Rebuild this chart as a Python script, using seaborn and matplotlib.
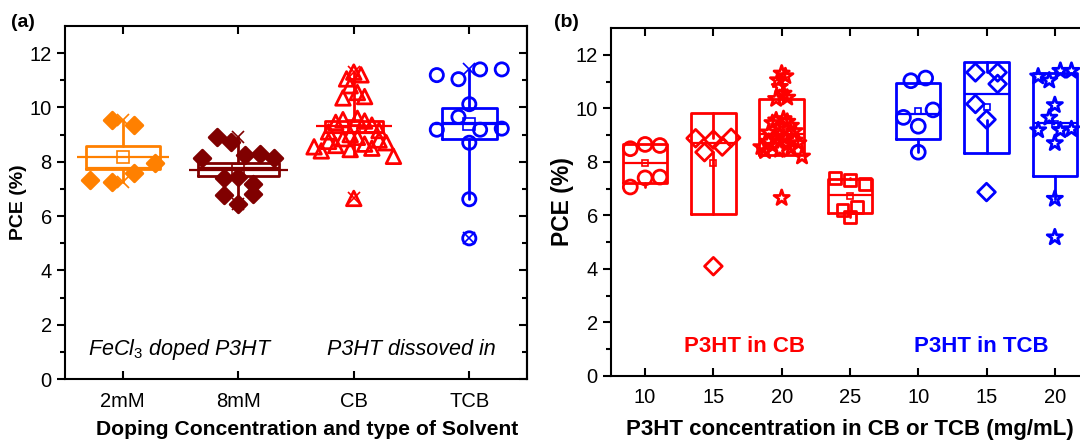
import numpy as np
import pandas as pd
import matplotlib
matplotlib.use("Agg")
import matplotlib.pyplot as plt
import seaborn as sns
from collections import defaultdict

# ---------------- data (PCE, %) ----------------
# panel (a): FeCl3-doped P3HT and P3HT in different solvents
doped_2mM = [9.53, 9.35, 7.32, 7.26, 7.57, 7.96]
doped_8mM = [8.12, 8.92, 8.73, 8.24, 8.27, 8.12,
             7.39, 7.45, 7.18, 6.77, 6.46, 6.83]

# panel (b): P3HT concentration series (mg/mL) in CB and TCB
cb_10 = [8.49, 8.65, 8.61, 7.06, 7.40, 7.43]
cb_15 = [8.88, 8.36, 8.83, 8.57, 8.90, 4.10]
cb_20 = [11.05, 11.30, 11.20,
         10.35, 10.80, 10.55, 10.40,
         9.10, 9.45, 9.55, 9.00, 9.60, 9.50, 9.35, 9.15,
         8.55, 8.40, 8.75, 8.60, 8.85, 8.45, 8.90, 8.65, 8.50, 8.80, 8.70, 8.20,
         6.65]
cb_25 = [7.40, 7.31, 7.18, 6.21, 6.31, 5.94]
tcb_10 = [11.03, 11.13, 9.66, 9.33, 9.94, 8.36]
tcb_15 = [11.34, 11.34, 10.16, 10.91, 9.58, 6.87]
tcb_20 = [11.19, 11.04, 11.40, 11.40, 10.12,
          9.18, 9.65, 9.18, 9.22, 8.70, 6.62, 5.18]

labels_a = ["2mM", "8mM", "CB", "TCB"]
series_a = [doped_2mM, doped_8mM, cb_20, tcb_20]
labels_b = ["10", "15", "20", "25", "10", "15", "20"]
series_b = [cb_10, cb_15, cb_20, cb_25, tcb_10, tcb_15, tcb_20]

# ---------------- styling ----------------
sns.set_theme(style="ticks")
plt.rcParams["font.family"] = ["Liberation Sans", "DejaVu Sans"]
plt.rcParams["mathtext.fontset"] = "custom"
plt.rcParams["mathtext.it"] = "Liberation Sans:italic"
plt.rcParams["mathtext.rm"] = "Liberation Sans"
plt.rcParams["mathtext.default"] = "it"
for key in ("text.color", "axes.labelcolor", "xtick.color", "ytick.color",
            "axes.edgecolor"):
    plt.rcParams[key] = "black"

ORANGE, MAROON, RED, BLUE = "#ff8000", "#800000", "#ff0000", "#0000ff"


def spread(vals, width):
    """Horizontal offsets: values are grouped in unit-wide bins and each
    bin's points are laid out side by side, centred on the box."""
    vals = np.asarray(vals)
    bins = np.floor(vals).astype(int)
    counts = pd.Series(bins).value_counts()
    step = width / counts.max()
    seen = defaultdict(int)
    offs = np.zeros(len(vals))
    for i, b in enumerate(bins):
        n = counts[b]
        offs[i] = (seen[b] - (n - 1) / 2) * step
        seen[b] += 1
    return offs


def box_stats(vals, spread_kind):
    v = np.asarray(vals)
    mean = v.mean()
    sd = v.std(ddof=1)
    half = sd if spread_kind == "sd" else sd / np.sqrt(len(v))
    q1p, q3p = np.percentile(v, [25, 75])
    iqr = q3p - q1p
    inside = v[(v >= q1p - 1.5 * iqr) & (v <= q3p + 1.5 * iqr)]
    return dict(med=np.median(v), q1=mean - half, q3=mean + half,
                whislo=inside.min(), whishi=inside.max(),
                mean=mean, fliers=[])


def draw_group(ax, pos, vals, color, marker, ms, filled, width, spread_w,
               kind, mean_ms, extra=False):
    st = box_stats(vals, kind)
    lw = 2.0
    ax.bxp([st], positions=[pos], widths=width, showfliers=False,
           showcaps=False, showmeans=True, patch_artist=False,
           boxprops=dict(color=color, lw=lw),
           whiskerprops=dict(color=color, lw=lw),
           medianprops=dict(color=color, lw=1.6),
           meanprops=dict(marker="s", mfc="none", mec=color, ms=mean_ms,
                          mew=1.2), zorder=2)
    df = pd.DataFrame({"x": pos + spread(vals, spread_w), "y": vals})
    sns.scatterplot(data=df, x="x", y="y", ax=ax, marker=marker, s=ms ** 2,
                    color=color if filled else "none",
                    edgecolor=color, linewidth=2.0, zorder=3, legend=False)
    if extra:
        v = np.asarray(vals)
        half = width / 2 + 0.08
        ax.hlines(st["mean"], pos - half, pos + half, color=color, lw=1.6,
                  zorder=2)
        ax.plot([pos, pos], [v.min(), v.max()], ls="none", marker="x",
                ms=8, mew=1.2, color=color, zorder=4)


def style_axis(ax, fs_tick):
    for s in ax.spines.values():
        s.set_visible(True)
        s.set_color("black")
        s.set_linewidth(1.5)
    ax.set_ylim(0, 13)
    ax.set_yticks(np.arange(0, 13, 2))
    ax.set_yticks(np.arange(1, 13, 2), minor=True)
    ax.tick_params(axis="y", which="major", direction="out", length=6,
                   width=1.5, labelsize=fs_tick, right=False)
    ax.tick_params(axis="y", which="minor", direction="out", length=3.5,
                   width=1.5, left=True, right=False)
    ax.tick_params(axis="x", which="major", direction="in", length=6,
                   width=1.5, top=True, bottom=True, labelsize=fs_tick,
                   pad=9)
    ax.grid(False)


fig = plt.figure(figsize=(10.8, 4.4), dpi=100)

# ---------------- panel (a) ----------------
axa = fig.add_axes([0.0602, 0.1386, 0.4278, 0.8024])
colors_a = [ORANGE, MAROON, RED, BLUE]
markers_a = ["D", "D", "^", "o"]
ms_a = [8.5, 8.5, 10.5, 9.5]
filled_a = [True, True, False, False]
widths_a = [0.64, 0.70, 0.50, 0.48]
for i, vals in enumerate(series_a):
    draw_group(axa, i, vals, colors_a[i], markers_a[i], ms_a[i], filled_a[i],
               widths_a[i], 0.75, "se", 9, extra=True)
axa.set_xlim(-0.5, 3.5)
axa.set_xticks(range(len(labels_a)))
axa.set_xticklabels(labels_a)
style_axis(axa, 14.5)

# inward ticks on the right-hand axis
right = axa.secondary_yaxis("right")
right.set_yticks(np.arange(0, 13, 2))
right.set_yticks(np.arange(1, 13, 2), minor=True)
right.tick_params(which="major", direction="in", length=6, width=1.5,
                  labelright=False)
right.tick_params(which="minor", direction="in", length=3.5, width=1.5)
right.spines["right"].set_linewidth(1.5)

axa.set_xlabel("Doping Concentration and type of Solvent", fontsize=15.2,
               fontweight="bold", labelpad=6)
axa.xaxis.set_label_coords(0.524, -0.115)
axa.set_ylabel("PCE (%)", fontsize=14, fontweight="bold", labelpad=2)
axa.text(0.5, 1.1, r"FeCl$_3$ doped P3HT", fontsize=15.5, style="italic",
         ha="center", va="center")
axa.text(2.5, 1.1, "P3HT dissoved in", fontsize=15.5, style="italic",
         ha="center", va="center")
fig.text(0.010, 0.948, "(a)", fontsize=14, fontweight="bold", va="center")

# ---------------- panel (b) ----------------
axb = fig.add_axes([0.5657, 0.1455, 0.4426, 0.7909])
colors_b = [RED] * 4 + [BLUE] * 3
markers_b = ["o", "D", "*", "s", "o", "D", "*"]
ms_b = [10, 9, 11.5, 8.5, 10, 9, 11.5]
for i, vals in enumerate(series_b):
    draw_group(axb, i, vals, colors_b[i], markers_b[i], ms_b[i], False,
               0.65, 0.65, "sd", 4)
axb.set_xlim(-0.5, 6.5)
axb.set_xticks(range(len(labels_b)))
axb.set_xticklabels(labels_b)
style_axis(axb, 14.5)
axb.set_xlabel("P3HT concentration in CB or TCB (mg/mL)", fontsize=16,
               fontweight="bold", labelpad=8)
axb.set_ylabel("PCE (%)", fontsize=16.5, fontweight="bold", labelpad=1)
axb.text(1.46, 1.1, "P3HT in CB", fontsize=16, fontweight="bold", color=RED,
         ha="center", va="center")
axb.text(4.92, 1.1, "P3HT in TCB", fontsize=16, fontweight="bold",
         color=BLUE, ha="center", va="center")
fig.text(0.513, 0.948, "(b)", fontsize=14, fontweight="bold", va="center")

fig.savefig("out.png", dpi=100)
